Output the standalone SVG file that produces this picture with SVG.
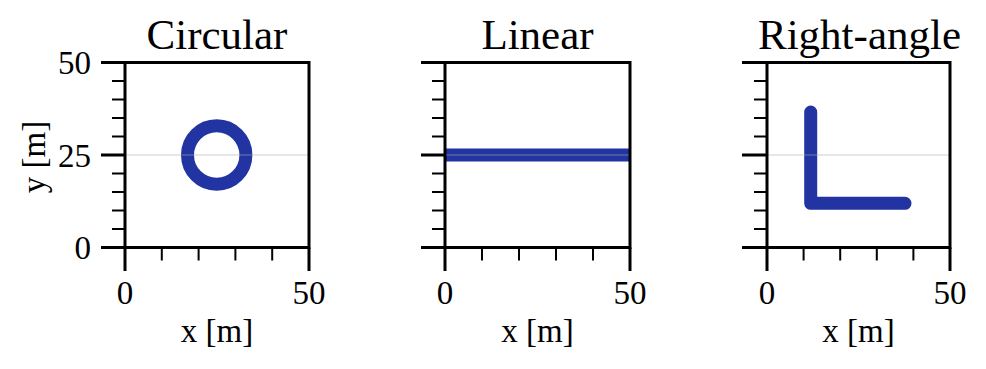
<svg xmlns="http://www.w3.org/2000/svg" width="986" height="369" viewBox="0 0 986 369">
<style>
.frame{fill:none;stroke:#000;stroke-width:3}
.maj{stroke:#000;stroke-width:3;fill:none}
.min{stroke:#000;stroke-width:2;fill:none}
.grid{stroke:#b0b0b0;stroke-opacity:0.4;stroke-width:1.5}
.data{fill:none;stroke:#2233a2;stroke-width:13}
.title{font-family:"Liberation Serif","Times New Roman",serif;font-size:43px;text-anchor:middle;fill:#000}
.lbl{font-family:"Liberation Serif","Times New Roman",serif;font-size:33px;fill:#000}
</style>
<rect width="986" height="369" fill="#fff"/>

<g id="panel-circular">
  <circle class="data" cx="216.7" cy="155" r="29.2" stroke-width="13.4"/>
  <line class="grid" x1="125" y1="155" x2="309" y2="155"/>
  <rect class="frame" x="125" y="62.5" width="184" height="185"/>
  <path class="maj" d="M101 62.5H125M101 155H125M101 247.5H125M125 247.5V271M309 247.5V271"/>
  <path class="min" d="M112 81H125M112 99.5H125M112 118H125M112 136.5H125M112 173.5H125M112 192H125M112 210.5H125M112 229H125M161.8 247.5V260.5M198.6 247.5V260.5M235.4 247.5V260.5M272.2 247.5V260.5"/>
  <text class="title" x="217" y="49">Circular</text>
  <text class="lbl" x="91" y="74" text-anchor="end">50</text>
  <text class="lbl" x="91" y="166.5" text-anchor="end">25</text>
  <text class="lbl" x="91" y="259" text-anchor="end">0</text>
  <text class="lbl" x="125" y="304" text-anchor="middle">0</text>
  <text class="lbl" x="309" y="304" text-anchor="middle">50</text>
  <text class="lbl" x="217" y="342" text-anchor="middle">x [m]</text>
  <text class="lbl" x="0" y="0" text-anchor="middle" transform="translate(45 157) rotate(-90)">y [m]</text>
</g>

<g id="panel-linear">
  <line class="data" x1="445" y1="155" x2="630" y2="155" stroke-width="13.4"/>
  <line class="grid" x1="445" y1="155" x2="630" y2="155"/>
  <rect class="frame" x="445" y="62.5" width="185" height="185"/>
  <path class="maj" d="M421 62.5H445M421 155H445M421 247.5H445M445 247.5V271M630 247.5V271"/>
  <path class="min" d="M432 81H445M432 99.5H445M432 118H445M432 136.5H445M432 173.5H445M432 192H445M432 210.5H445M432 229H445M482 247.5V260.5M519 247.5V260.5M556 247.5V260.5M593 247.5V260.5"/>
  <text class="title" x="537.5" y="49">Linear</text>
  <text class="lbl" x="445" y="304" text-anchor="middle">0</text>
  <text class="lbl" x="630" y="304" text-anchor="middle">50</text>
  <text class="lbl" x="537.5" y="342" text-anchor="middle">x [m]</text>
</g>

<g id="panel-right-angle">
  <path class="data" d="M810.7 112V203.3H905" stroke-width="13.4" stroke-linecap="round" stroke-linejoin="round"/>
  <line class="grid" x1="767" y1="155" x2="950" y2="155"/>
  <rect class="frame" x="767" y="62.5" width="183" height="185"/>
  <path class="maj" d="M742 62.5H767M742 155H767M742 247.5H767M767 247.5V271M950 247.5V271"/>
  <path class="min" d="M754 81H767M754 99.5H767M754 118H767M754 136.5H767M754 173.5H767M754 192H767M754 210.5H767M754 229H767M803.6 247.5V260.5M840.2 247.5V260.5M876.8 247.5V260.5M913.4 247.5V260.5"/>
  <text class="title" x="859.5" y="49">Right-angle</text>
  <text class="lbl" x="767" y="304" text-anchor="middle">0</text>
  <text class="lbl" x="950" y="304" text-anchor="middle">50</text>
  <text class="lbl" x="858.5" y="342" text-anchor="middle">x [m]</text>
</g>
</svg>
